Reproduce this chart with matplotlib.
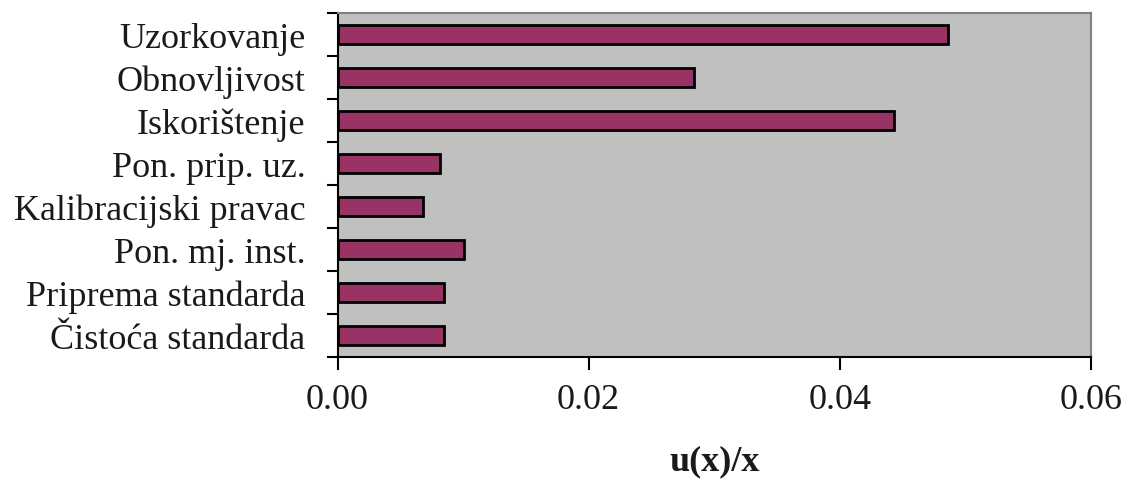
import matplotlib
matplotlib.use("Agg")
import matplotlib.pyplot as plt
import numpy as np

categories = ["Uzorkovanje", "Obnovljivost", "Iskorištenje", "Pon. prip. uz.",
              "Kalibracijski pravac", "Pon. mj. inst.", "Priprema standarda", "Čistoća standarda"]
values = [0.0486, 0.0284, 0.0443, 0.0082, 0.0068, 0.0101, 0.0085, 0.0085]
xticks = [0.00, 0.02, 0.04, 0.06]
xticklabels = ["0.00", "0.02", "0.04", "0.06"]

plt.rcParams['font.family'] = ['Liberation Serif', 'DejaVu Serif']

fig = plt.figure(figsize=(11.28, 4.81), dpi=100)
ax = fig.add_axes([337.5/1128, 1 - 358/481, (1091 - 337.5)/1128, (358 - 14)/481])
ax.set_facecolor('#C0C0C0')

n = len(categories)
y = np.arange(n)[::-1]
ax.barh(y, values, height=0.45, color='#993366', edgecolor='black', linewidth=2)

ax.set_ylim(-0.5, n - 0.5)
ax.set_xlim(0, 0.06)
ax.set_yticks(y)
ax.set_yticklabels(categories, fontsize=26, color='#1a1a1a')
ax.tick_params(axis='y', length=0, pad=23)
ax.set_yticks(np.arange(-0.5, n, 1.0), minor=True)
ax.tick_params(axis='y', which='minor', length=8, width=1.5, direction='out', color='black')

ax.set_xticks(xticks)
ax.set_xticklabels(xticklabels, fontsize=26, color='#1a1a1a')
ax.tick_params(axis='x', length=9, width=1.5, direction='out', pad=10)

ax.set_xlabel("u(x)/x", fontsize=26, fontweight='bold', labelpad=20, color='#1a1a1a')

for s in ['left', 'bottom']:
    ax.spines[s].set_color('black')
    ax.spines[s].set_linewidth(1.5)
for s in ['top', 'right']:
    ax.spines[s].set_color('#808080')
    ax.spines[s].set_linewidth(1.5)

fig.savefig("out.png", dpi=100)
